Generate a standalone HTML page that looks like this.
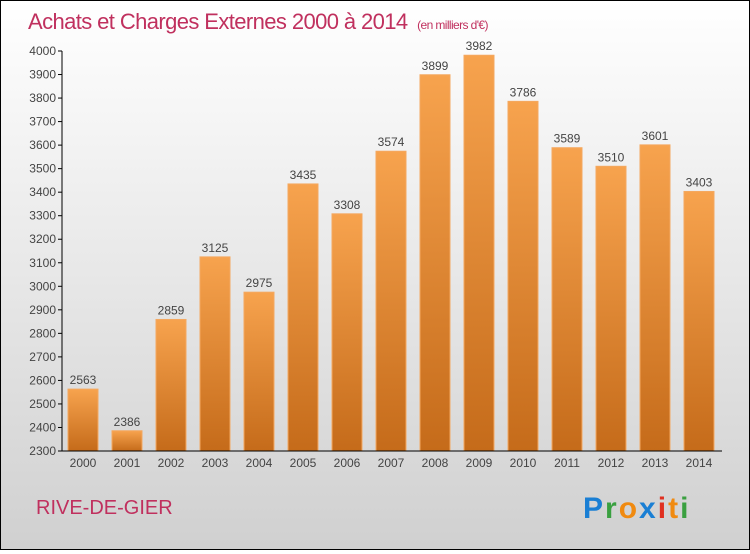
<!DOCTYPE html>
<html><head><meta charset="utf-8"><style>
body{margin:0;width:750px;height:550px;overflow:hidden;font-family:"Liberation Sans",sans-serif}
#c{position:absolute;left:0;top:0;width:748px;height:548px;border:1px solid #000;background:linear-gradient(#ffffff,#d0d0d0)}
</style></head><body>
<div id="c">
<svg width="748" height="548">
<defs>
<linearGradient id="bg" x1="0" y1="0" x2="0" y2="1"><stop offset="0" stop-color="#f7a34e"/><stop offset="1" stop-color="#c56b1a"/></linearGradient>
</defs>
<text x="27" y="28" font-size="22" fill="#c0305e" style="letter-spacing:-0.6px">Achats et Charges Externes 2000 à 2014 <tspan font-size="12" dx="4">(en milliers d'€)</tspan></text>
<g id="plot"></g>
<text x="35" y="513" font-size="20" fill="#c0305e">RIVE-DE-GIER</text>
<g font-size="30" font-weight="bold">
<text x="582" y="517" style="letter-spacing:2px"><tspan fill="#1a7fd4">P</tspan><tspan fill="#3aa040">r</tspan><tspan fill="#f08a10">o</tspan><tspan fill="#1a7fd4">x</tspan><tspan fill="#e03020">i</tspan><tspan fill="#f08a10">t</tspan><tspan fill="#3aa040">i</tspan></text>
</g>
</svg></div>
<script>
const years=["2000","2001","2002","2003","2004","2005","2006","2007","2008","2009","2010","2011","2012","2013","2014"];
const values=[2563,2386,2859,3125,2975,3435,3308,3574,3899,3982,3786,3589,3510,3601,3403];
const yTicks=[2300,2400,2500,2600,2700,2800,2900,3000,3100,3200,3300,3400,3500,3600,3700,3800,3900,4000];
const NS="http://www.w3.org/2000/svg";
const g=document.getElementById('plot');
const y=v=>450-(v-2300)*400/1700;
const x=i=>82+i*44;
function el(t,a,txt){const e=document.createElementNS(NS,t);for(const k in a)e.setAttribute(k,a[k]);if(txt!=null)e.textContent=txt;g.appendChild(e);return e;}
yTicks.forEach(t=>{
 const l=el('line',{x1:57,x2:61,y1:y(t),y2:y(t),stroke:'#000'});
 
 
 const s=el('text',{x:55,y:y(t)+4,'font-size':12,'text-anchor':'end',fill:'#444'},t);
 
 
});
values.forEach((v,i)=>{
 const r=el('rect',{x:x(i)-15,y:y(v),width:30,height:450-y(v),fill:'url(#bg)',stroke:'#f4a860','stroke-width':1});
 
 
 const s=el('text',{x:x(i),y:y(v)-5,'font-size':12,'text-anchor':'middle',fill:'#444'},v);
 
 
 const yl=el('text',{x:x(i),y:466,'font-size':12,'text-anchor':'middle',fill:'#444'},years[i]);
 
 
});
const ya=el('line',{x1:61,x2:61,y1:50,y2:450,stroke:'#000'});


const xa=el('line',{x1:61,x2:721,y1:450,y2:450,stroke:'#000'});


</script>
</body></html>
